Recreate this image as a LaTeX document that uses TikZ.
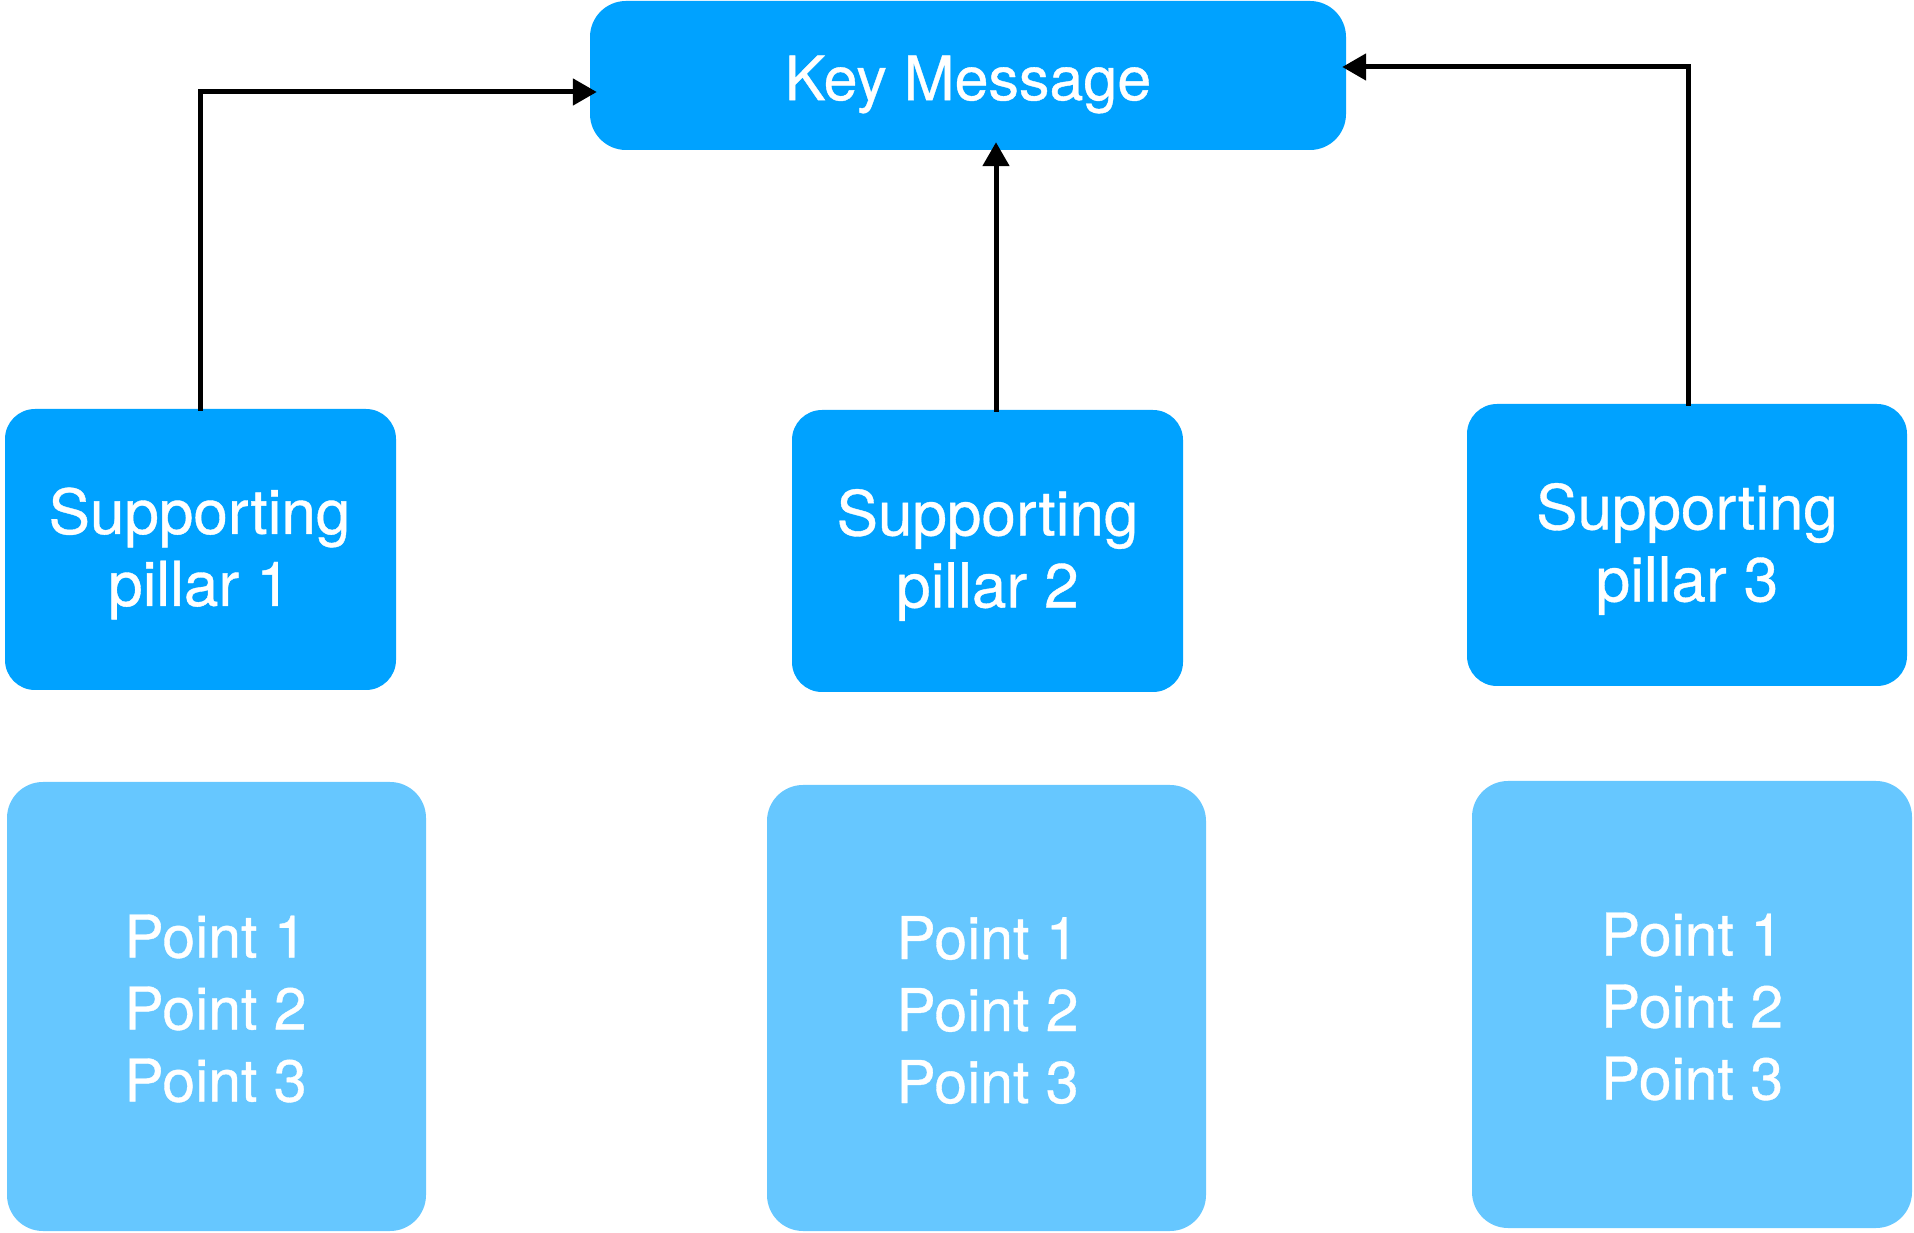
\documentclass[tikz,border=0pt]{standalone}
\usepackage{fontspec}
\setmainfont{TeX Gyre Heros}
\newfontfamily\boldishfont[FakeBold=0.6]{TeX Gyre Heros}
\usetikzlibrary{arrows.meta}
\definecolor{darkblue}{RGB}{0,162,255}
\definecolor{lightblue}{RGB}{102,199,255}
\begin{document}
\begin{tikzpicture}[x=1pt,y=1pt,
  keybox/.style={fill=darkblue,rounded corners=36pt,inner sep=0pt},
  pillarbox/.style={fill=darkblue,rounded corners=30pt,inner sep=0pt},
  pointbox/.style={fill=lightblue,rounded corners=36pt,inner sep=0pt},
  keytext/.style={text=white,align=center,inner sep=0pt,font=\boldishfont\fontsize{61}{72}\selectfont},
  pillartext/.style={text=white,align=center,inner sep=0pt,font=\boldishfont\fontsize{62}{72}\selectfont},
  pointtext/.style={text=white,align=center,inner sep=0pt,font=\boldishfont\fontsize{59}{72}\selectfont},
  arr/.style={line width=5pt,-{Triangle[length=24pt,width=26pt]}}]
\useasboundingbox (0,0) rectangle (1914,1232);
\node[keybox,minimum width=756pt,minimum height=149pt] (key) at (968,1156.5) {};
\node[pillarbox,minimum width=391pt,minimum height=281pt] (p1) at (200.5,682.5) {};
\node[pillarbox,minimum width=391pt,minimum height=282pt] (p2) at (987.5,681) {};
\node[pillarbox,minimum width=440pt,minimum height=282pt] (p3) at (1687,687) {};
\node[pointbox,minimum width=419pt,minimum height=449pt] (q1) at (216.5,225.5) {};
\node[pointbox,minimum width=439pt,minimum height=446pt] (q2) at (986.5,224) {};
\node[pointbox,minimum width=440pt,minimum height=447pt] (q3) at (1692,227.5) {};
\node[keytext] (keyt) at ([yshift=-9pt]key.center) {Key Message};
\node[pillartext] (p1t) at ([xshift=-1pt,yshift=-4pt]p1.center) {Supporting\\pillar 1};
\node[pillartext] (p2t) at ([yshift=-4pt]p2.center) {Supporting\\pillar 2};
\node[pillartext] (p3t) at ([yshift=-4pt]p3.center) {Supporting\\pillar 3};
\node[pointtext] (q1t) at ([xshift=-1pt,yshift=-2pt]q1.center) {Point 1\\Point 2\\Point 3};
\node[pointtext] (q2t) at ([xshift=1pt,yshift=-2pt]q2.center) {Point 1\\Point 2\\Point 3};
\node[pointtext] (q3t) at ([yshift=-2pt]q3.center) {Point 1\\Point 2\\Point 3};
\draw[arr] ([yshift=-2pt]p1.north) |- ([xshift=7pt,yshift=-16.5pt]key.west);
\draw[arr] ([xshift=8.5pt,yshift=-2pt]p2.north) -- ([xshift=28pt,yshift=8pt]key.south);
\draw[arr] ([xshift=1pt,yshift=-2pt]p3.north) |- ([xshift=-4pt,yshift=8.5pt]key.east);
\end{tikzpicture}
\end{document}
